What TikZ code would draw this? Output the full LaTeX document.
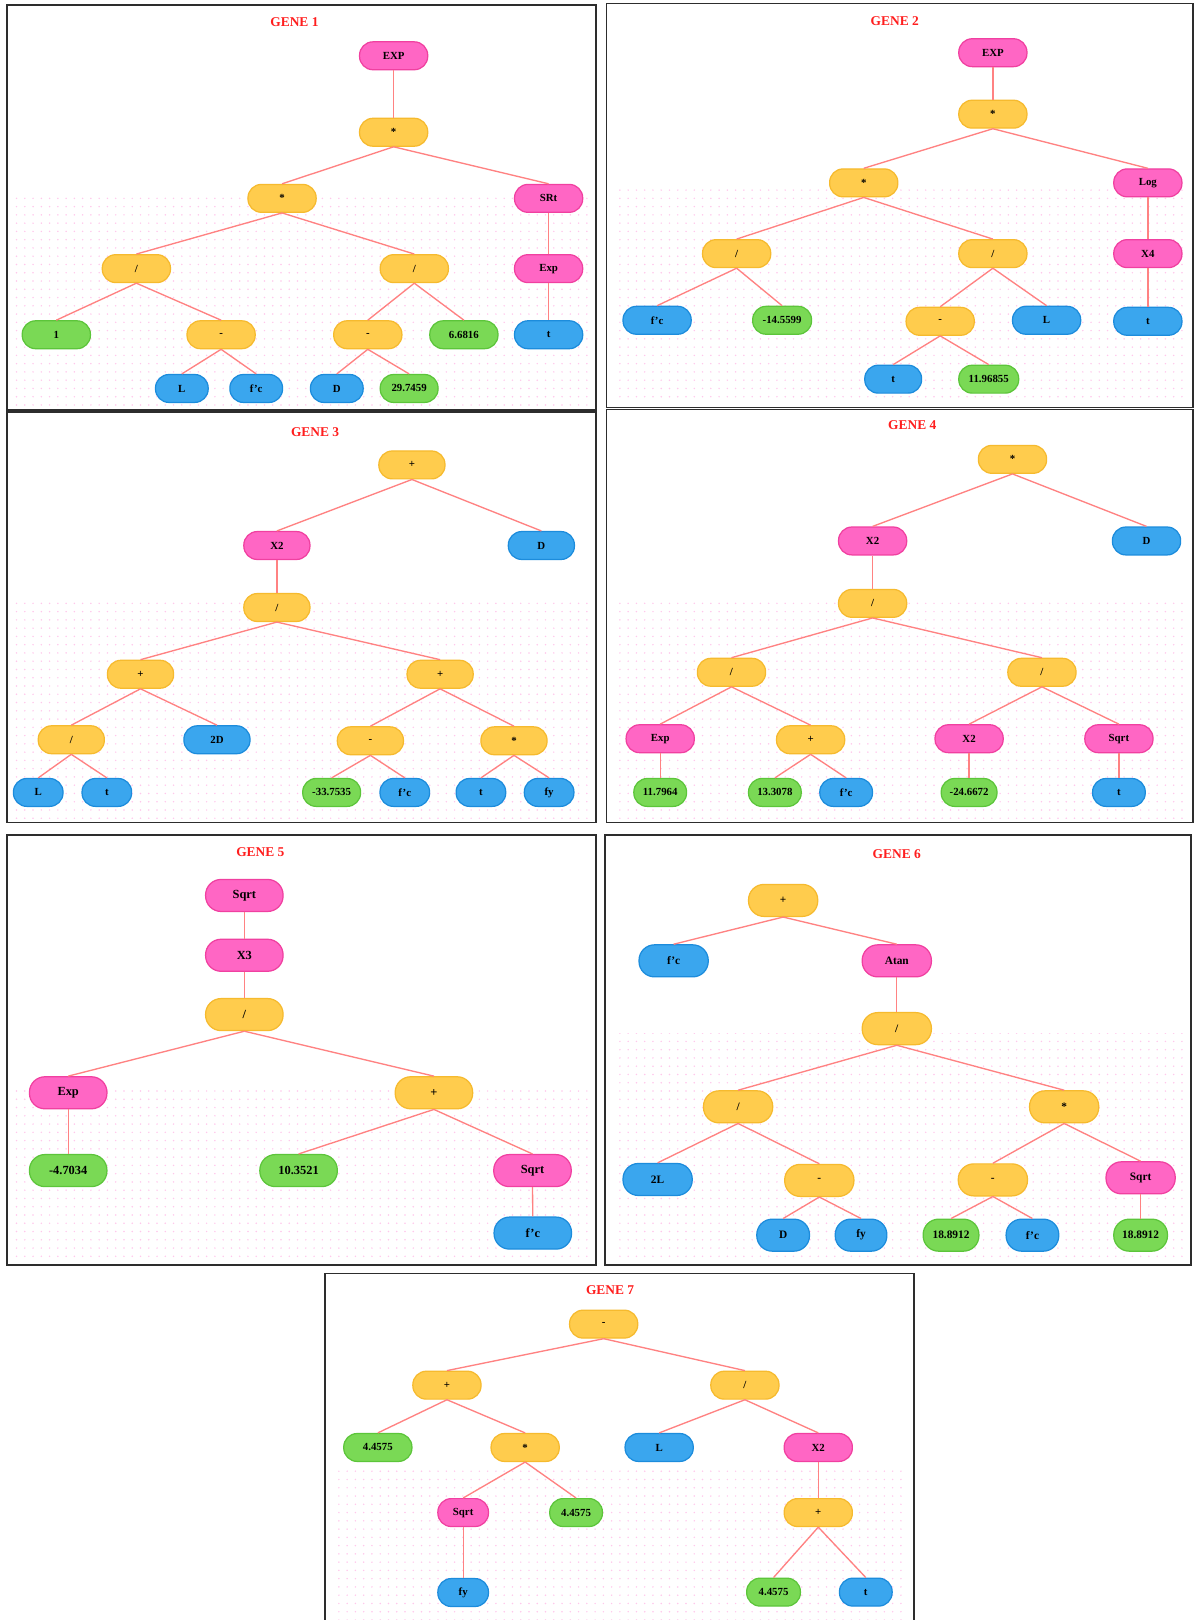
\documentclass[tikz,border=0pt]{standalone}
\usepackage{fontspec}
\setmainfont{Liberation Serif}
\usetikzlibrary{patterns.meta}
\definecolor{pinkF}{RGB}{255,102,196}
\definecolor{pinkD}{RGB}{240,64,160}
\definecolor{yelF}{RGB}{255,204,77}
\definecolor{yelD}{RGB}{246,186,46}
\definecolor{bluF}{RGB}{58,166,238}
\definecolor{bluD}{RGB}{28,140,220}
\definecolor{grnF}{RGB}{122,217,85}
\definecolor{grnD}{RGB}{92,197,58}
\definecolor{edgeC}{RGB}{255,130,130}
\definecolor{titleC}{RGB}{255,30,30}
\definecolor{dotC}{RGB}{255,200,236}
\definecolor{boxC}{RGB}{45,45,45}
\begin{document}
\begin{tikzpicture}[x=1pt,y=-1pt,
  nd/.style={rounded corners=13pt, line width=1.2pt, minimum width=66pt, minimum height=27pt,
    inner sep=0pt, text=black, font=\bfseries\fontsize{10.5}{12}\selectfont},
  pk/.style={nd, fill=pinkF, draw=pinkD},
  yl/.style={nd, fill=yelF, draw=yelD},
  bl/.style={nd, fill=bluF, draw=bluD},
  gr/.style={nd, fill=grnF, draw=grnD},
  w/.style={minimum width=#1},
  ed/.style={draw=edgeC, line width=1.3pt},
  ttl/.style={text=titleC, font=\bfseries\fontsize{13}{15}\selectfont, inner sep=0pt},
  panel/.style={draw=boxC, line width=1.6pt},
  dots/.style={pattern={Dots[distance=8pt,radius=0.8pt]}, pattern color=dotC}
]
\useasboundingbox (0,0) rectangle (1156,1568);
\fill[white] (0,0) rectangle (1156,1568);

% dotted backgrounds
\fill[dots] (15,185) rectangle (570,393);
\fill[dots] (595,180) rectangle (1150,390);
\fill[dots] (15,580) rectangle (570,792);
\fill[dots] (595,580) rectangle (1150,792);
\fill[dots] (15,1050) rectangle (570,1220);
\fill[dots] (593,1000) rectangle (1147,1220);
\fill[dots] (322,1420) rectangle (878,1568);

% panels
\draw[panel] (7,5) rectangle (577,397);
\draw[panel] (587,3.5) rectangle (1155,394.5);
\draw[panel] (7,398.5) rectangle (577,796);
\draw[panel] (587,396.5) rectangle (1155,796);
\draw[panel] (7,808.5) rectangle (577,1224.5);
\draw[panel] (585.5,808.5) rectangle (1153,1224.5);
\draw[panel] (314.5,1232.5) rectangle (884.5,1585);

% titles
\node[ttl] (t1) at (285,21) {GENE 1};
\node[ttl] (t2) at (866,20) {GENE 2};
\node[ttl] (t3) at (305,418) {GENE 3};
\node[ttl] (t4) at (883,411) {GENE 4};
\node[ttl] (t5) at (252,825) {GENE 5};
\node[ttl] (t6) at (868,827) {GENE 6};
\node[ttl] (t7) at (590.5,1249) {GENE 7};

% ---------- GENE 1
\node[pk] (g1a) at (381,54) {EXP};
\node[yl] (g1b) at (381,128) {*};
\node[yl] (g1c) at (273,192) {*};
\node[pk] (g1d) at (531,192) {SRt};
\node[yl] (g1e) at (132,260) {/};
\node[yl] (g1f) at (401,260) {/};
\node[pk] (g1g) at (531,260) {Exp};
\node[gr] (g1h) at (54.5,324) {1};
\node[yl] (g1i) at (214,324) {-};
\node[yl] (g1j) at (356,324) {-};
\node[gr] (g1k) at (449,324) {6.6816};
\node[bl] (g1l) at (531,324) {t};
\node[bl,w=51pt] (g1m) at (176,376) {L};
\node[bl,w=51pt] (g1n) at (248,376) {f'c};
\node[bl,w=51pt] (g1o) at (326,376) {D};
\node[gr,w=56pt] (g1p) at (396,376) {29.7459};
\foreach \p/\c in {g1a/g1b,g1b/g1c,g1b/g1d,g1c/g1e,g1c/g1f,g1e/g1h,g1e/g1i,g1i/g1m,g1i/g1n,
  g1f/g1j,g1f/g1k,g1j/g1o,g1j/g1p,g1d/g1g,g1g/g1l}
  {\draw[ed] (\p.south) -- (\c.north);}

% ---------- GENE 2
\node[pk] (g2a) at (961,51) {EXP};
\node[yl] (g2b) at (961,110.5) {*};
\node[yl] (g2c) at (836,177) {*};
\node[pk] (g2d) at (1111,177) {Log};
\node[yl] (g2e) at (713,245.5) {/};
\node[yl] (g2f) at (961,245.5) {/};
\node[pk] (g2g) at (1111,245.5) {X4};
\node[bl] (g2h) at (636,310) {f'c};
\node[gr,w=57pt] (g2i) at (757,310) {-14.5599};
\node[yl] (g2j) at (910,311) {-};
\node[bl] (g2k) at (1013,310) {L};
\node[bl] (g2l) at (1111,311) {t};
\node[bl,w=55pt] (g2m) at (864.5,367) {t};
\node[gr,w=58pt] (g2n) at (957,367) {11.96855};
\foreach \p/\c in {g2a/g2b,g2b/g2c,g2b/g2d,g2c/g2e,g2c/g2f,g2e/g2h,g2e/g2i,g2f/g2j,g2f/g2k,
  g2j/g2m,g2j/g2n,g2d/g2g,g2g/g2l}
  {\draw[ed] (\p.south) -- (\c.north);}

% ---------- GENE 3
\begin{scope}[nd/.append style={minimum width=64pt}]
\node[yl] (g3a) at (398.7,450) {+};
\node[pk] (g3b) at (268,528) {X2};
\node[bl] (g3c) at (524,528) {D};
\node[yl] (g3d) at (268,588) {/};
\node[yl] (g3e) at (136,652.6) {+};
\node[yl] (g3f) at (426,652.6) {+};
\node[yl] (g3g) at (69,716) {/};
\node[bl] (g3h) at (210,716) {2D};
\node[yl] (g3i) at (358.5,717) {-};
\node[yl] (g3j) at (497.5,717) {*};
\node[bl,w=48pt] (g3k) at (37,767) {L};
\node[bl,w=48pt] (g3l) at (103.4,767) {t};
\node[gr,w=56pt] (g3m) at (321,767) {-33.7535};
\node[bl,w=48pt] (g3n) at (391.8,767) {f'c};
\node[bl,w=48pt] (g3o) at (465.5,767) {t};
\node[bl,w=48pt] (g3p) at (531.5,767) {fy};
\end{scope}
\foreach \p/\c in {g3a/g3b,g3a/g3c,g3b/g3d,g3d/g3e,g3d/g3f,g3e/g3g,g3e/g3h,g3g/g3k,g3g/g3l,
  g3f/g3i,g3f/g3j,g3i/g3m,g3i/g3n,g3j/g3o,g3j/g3p}
  {\draw[ed] (\p.south) -- (\c.north);}

% ---------- GENE 4
\node[yl] (g4a) at (980,444.6) {*};
\node[pk] (g4b) at (844.6,523.6) {X2};
\node[bl] (g4c) at (1109.7,523.6) {D};
\node[yl] (g4d) at (844.6,584) {/};
\node[yl] (g4e) at (708,650.7) {/};
\node[yl] (g4f) at (1008.5,650.7) {/};
\node[pk] (g4g) at (639,715) {Exp};
\node[yl] (g4h) at (784.6,716) {+};
\node[pk] (g4i) at (938,715) {X2};
\node[pk] (g4j) at (1083,715) {Sqrt};
\node[gr,w=51pt] (g4k) at (639,767) {11.7964};
\node[gr,w=51pt] (g4l) at (750,767) {13.3078};
\node[bl,w=51pt] (g4m) at (819,767) {f'c};
\node[gr,w=54pt] (g4n) at (938,767) {-24.6672};
\node[bl,w=51pt] (g4o) at (1083,767) {t};
\foreach \p/\c in {g4a/g4b,g4a/g4c,g4b/g4d,g4d/g4e,g4d/g4f,g4e/g4g,g4e/g4h,g4g/g4k,g4h/g4l,
  g4h/g4m,g4f/g4i,g4f/g4j,g4i/g4n,g4j/g4o}
  {\draw[ed] (\p.south) -- (\c.north);}

% ---------- GENE 5
\begin{scope}[nd/.append style={minimum width=75pt, minimum height=31pt, rounded corners=15pt,
    font=\bfseries\fontsize{12}{14}\selectfont}]
\node[pk] (g5a) at (236.5,866.7) {Sqrt};
\node[pk] (g5b) at (236.5,924.6) {X3};
\node[yl] (g5c) at (236.5,982) {/};
\node[pk] (g5d) at (66,1057.7) {Exp};
\node[yl] (g5e) at (420,1057.7) {+};
\node[gr] (g5f) at (66,1133) {-4.7034};
\node[gr] (g5g) at (289,1133) {10.3521};
\node[pk] (g5h) at (515.4,1133) {Sqrt};
\node[bl] (g5i) at (515.7,1193.5) {f'c};
\end{scope}
\foreach \p/\c in {g5a/g5b,g5b/g5c,g5c/g5d,g5c/g5e,g5d/g5f,g5e/g5g,g5e/g5h,g5h/g5i}
  {\draw[ed] (\p.south) -- (\c.north);}

% ---------- GENE 6
\begin{scope}[nd/.append style={minimum width=67pt, minimum height=31pt, rounded corners=15pt,
    font=\bfseries\fontsize{11}{13}\selectfont}]
\node[yl] (g6a) at (758,871.5) {+};
\node[bl] (g6b) at (652,930) {f'c};
\node[pk] (g6c) at (868,930) {Atan};
\node[yl] (g6d) at (868,995.6) {/};
\node[yl] (g6e) at (714.4,1071.3) {/};
\node[yl] (g6f) at (1030,1071.3) {*};
\node[bl] (g6g) at (636.5,1141.6) {2L};
\node[yl] (g6h) at (793,1142.5) {-};
\node[yl] (g6i) at (961,1142) {-};
\node[pk] (g6j) at (1104,1140) {Sqrt};
\node[bl,w=51pt] (g6k) at (758,1195.5) {D};
\node[bl,w=50pt] (g6l) at (833.4,1195.5) {fy};
\node[gr,w=54pt] (g6m) at (920.5,1195.5) {18.8912};
\node[bl,w=51pt] (g6n) at (999.3,1195.5) {f'c};
\node[gr,w=52pt] (g6o) at (1104,1195.5) {18.8912};
\end{scope}
\foreach \p/\c in {g6a/g6b,g6a/g6c,g6c/g6d,g6d/g6e,g6d/g6f,g6e/g6g,g6e/g6h,g6h/g6k,g6h/g6l,
  g6f/g6i,g6f/g6j,g6i/g6m,g6i/g6n,g6j/g6o}
  {\draw[ed] (\p.south) -- (\c.north);}

% ---------- GENE 7
\node[yl] (g7a) at (584.3,1281.6) {-};
\node[yl] (g7b) at (432.6,1340.7) {+};
\node[yl] (g7c) at (721,1340.7) {/};
\node[gr] (g7d) at (365.7,1401) {4.4575};
\node[yl] (g7e) at (508.3,1401) {*};
\node[bl] (g7f) at (638,1401) {L};
\node[pk] (g7g) at (792,1401) {X2};
\node[pk,w=49pt] (g7h) at (448.3,1464) {Sqrt};
\node[gr,w=51pt] (g7i) at (557.6,1464) {4.4575};
\node[yl] (g7j) at (792,1464) {+};
\node[bl,w=49pt] (g7k) at (448.3,1541.4) {fy};
\node[gr,w=52pt] (g7l) at (748.7,1541) {4.4575};
\node[bl,w=51pt] (g7m) at (838,1541) {t};
\foreach \p/\c in {g7a/g7b,g7a/g7c,g7b/g7d,g7b/g7e,g7e/g7h,g7e/g7i,g7h/g7k,g7c/g7f,g7c/g7g,
  g7g/g7j,g7j/g7l,g7j/g7m}
  {\draw[ed] (\p.south) -- (\c.north);}
\end{tikzpicture}
\end{document}
